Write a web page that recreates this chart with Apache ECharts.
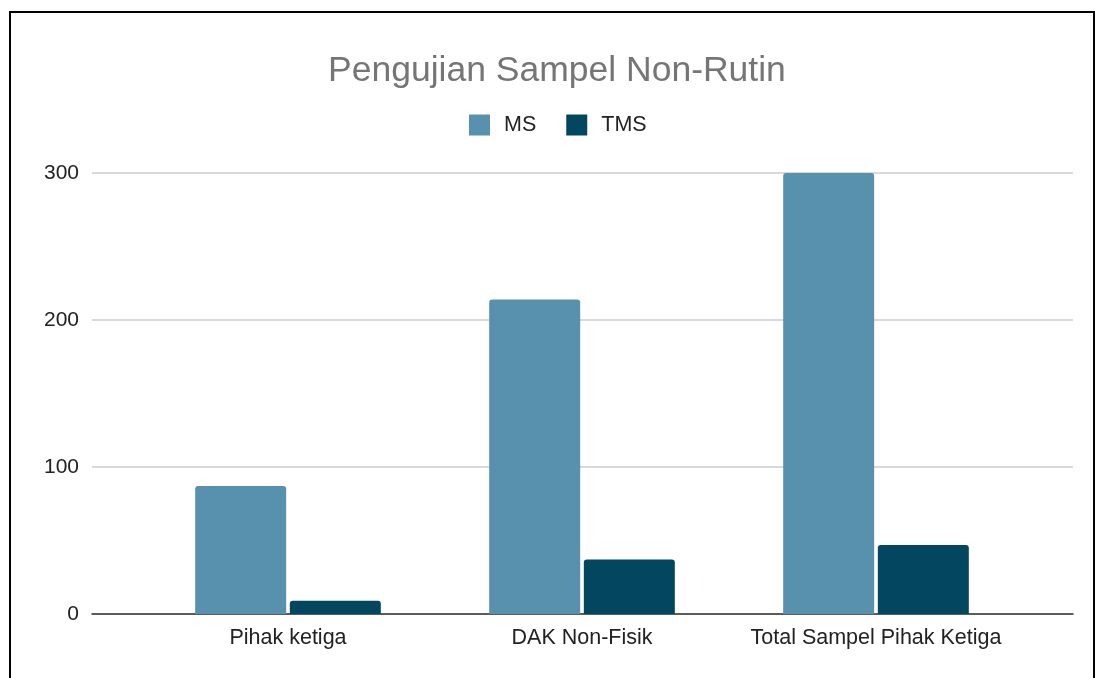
<!DOCTYPE html>
<html>
<head>
<meta charset="utf-8">
<script src="https://cdn.jsdelivr.net/npm/echarts@6/dist/echarts.min.js"></script>
<style>
  html, body { margin: 0; padding: 0; background: #fff; }
  #chart { width: 1095px; height: 678px; }
  #frame {
    position: absolute; left: 9px; top: 11px; width: 1082px; height: 700px;
    border: 2px solid #000; pointer-events: none;
  }
</style>
</head>
<body>
<div id="chart"></div>
<div id="frame"></div>
<script>
const categories = ['Pihak ketiga', 'DAK Non-Fisik', 'Total Sampel Pihak Ketiga']
const msValues = [87, 214, 300]
const tmsValues = [9, 37, 47]
const yTicks = { min: 0, max: 300, interval: 100 }

const chart = echarts.init(document.getElementById('chart'))
const font = 'Liberation Sans, Arial, sans-serif'

const option = {
  animation: false,
  title: {
    text: 'Pengujian Sampel Non-Rutin',
    left: 323,
    top: 48,
    textStyle: { color: '#757575', fontSize: 35.5, fontWeight: 'normal', fontFamily: font }
  },
  legend: {
    top: 109,
    left: 464,
    itemWidth: 21,
    itemHeight: 21,
    itemGap: 30,
    icon: 'rect',
    textStyle: { color: '#222', fontSize: 21.5, fontFamily: font, padding: [0, 0, 0, 9] },
    data: ['MS', 'TMS']
  },
  // grid 0 holds the bars, grid 1 draws the gridlines and the y labels
  grid: [
    { left: 141, right: 72, top: 173, bottom: 64 },
    { left: 92, right: 22, top: 173, bottom: 64 }
  ],
  xAxis: [
    {
      type: 'category',
      gridIndex: 0,
      data: categories,
      axisLine: { show: false },
      axisTick: { show: false },
      axisLabel: { color: '#222', fontSize: 21.5, fontFamily: font, margin: 13, interval: 0 }
    },
    {
      type: 'value',
      gridIndex: 1,
      min: 0,
      max: 1,
      axisLine: { show: true, lineStyle: { color: '#333', width: 1.5 } },
      axisTick: { show: false },
      axisLabel: { show: false },
      splitLine: { show: false }
    }
  ],
  yAxis: [
    {
      type: 'value',
      gridIndex: 0,
      min: yTicks.min,
      max: yTicks.max,
      interval: yTicks.interval,
      show: false
    },
    {
      type: 'value',
      gridIndex: 1,
      min: yTicks.min,
      max: yTicks.max,
      interval: yTicks.interval,
      axisLine: { show: false },
      axisTick: { show: false },
      axisLabel: { color: '#222', fontSize: 21, fontFamily: font, margin: 13 },
      splitLine: { lineStyle: { color: '#cccccc', width: 1.5 } }
    }
  ],
  series: [
    {
      name: 'MS',
      type: 'bar',
      xAxisIndex: 0,
      yAxisIndex: 0,
      data: msValues,
      barWidth: 91,
      barGap: '4%',
      itemStyle: { color: '#5891ad', borderRadius: [3, 3, 0, 0] },
      z: 3
    },
    {
      name: 'TMS',
      type: 'bar',
      xAxisIndex: 0,
      yAxisIndex: 0,
      data: tmsValues,
      barWidth: 91,
      barGap: '4%',
      itemStyle: { color: '#02465f', borderRadius: [3, 3, 0, 0] },
      z: 3
    }
  ]
}

chart.setOption(option)
</script>
</body>
</html>
